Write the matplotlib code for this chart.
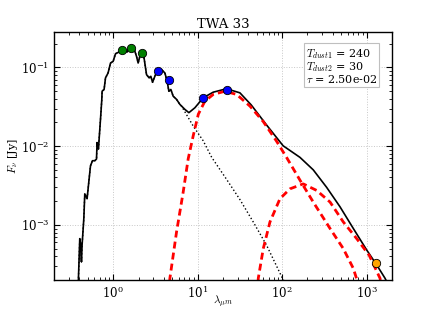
import numpy as np
import matplotlib
matplotlib.use('Agg')
import matplotlib.pyplot as plt

plt.rcParams['font.family'] = 'serif'
plt.rcParams['mathtext.fontset'] = 'cm'

# noisy stellar spectrum (shared by photosphere and total)
star_wl = [0.38, 0.403, 0.414, 0.422, 0.429, 0.450, 0.462, 0.492, 0.520, 0.540,
           0.570, 0.607, 0.636, 0.646, 0.671, 0.683, 0.709, 0.735, 0.741, 0.782,
           0.813, 0.872, 0.932, 1.0, 1.068, 1.146, 1.234, 1.376, 1.465, 1.547,
           1.652, 1.759, 1.894, 1.978, 2.072, 2.170, 2.310, 2.487, 2.670, 2.797,
           2.930, 3.120, 3.321, 3.746, 4.099, 4.364, 4.571, 4.827, 5.139, 5.640,
           6.170]
star_fx = [1.0e-4, 6.7e-4, 5.5e-4, 3.4e-4, 5.5e-4, 1.2e-3, 2.48e-3, 2.15e-3, 3.84e-3, 5.64e-3,
           6.53e-3, 6.53e-3, 6.86e-3, 0.0111, 0.0092, 0.0123, 0.0219, 0.0392, 0.0498, 0.0524,
           0.0735, 0.085, 0.1136, 0.119, 0.149, 0.1546, 0.1624, 0.1638, 0.1564, 0.1757,
           0.1894, 0.1757, 0.1376, 0.1136, 0.1376, 0.152, 0.1376, 0.0809, 0.0735, 0.077,
           0.0647, 0.077, 0.089, 0.0935, 0.085, 0.0666, 0.0498, 0.0524, 0.0431, 0.0392,
           0.0339]

# photosphere continuation (dotted)
phot_wl = [6.46, 8.87, 11.65, 14.7, 22.0, 31.7, 45.6, 65.7, 99.0, 120.0]
phot_fx = [0.0322, 0.018, 0.0117, 0.0072, 0.0038, 0.0021, 0.00109, 5.5e-4, 2.2e-4, 1.5e-4]

# total model continuation (solid)
tot_wl = [7.07, 7.886, 9.29, 11.65, 15.3, 22.0, 31.7, 43.0, 65.7, 103, 163, 234,
          337, 485, 698, 1005, 1321, 1657, 2000]
tot_fx = [0.0293, 0.0266, 0.0307, 0.0411, 0.0484, 0.0535, 0.0475, 0.0335, 0.0185, 0.0101,
          0.0072, 0.0050, 0.0030, 0.0017, 9.0e-4, 4.8e-4, 3.1e-4, 2.1e-4, 1.4e-4]

# warm dust (T=240)
warm_wl = [4.5, 4.7, 5.64, 6.75, 7.74, 8.87, 10.2, 12.2, 15.3, 21.1, 29.0, 41.7,
           59.9, 86.3, 113, 163, 234, 370, 531, 698, 760, 850]
warm_fx = [1.0e-4, 2.1e-4, 8.2e-4, 2.6e-3, 6.9e-3, 0.0135, 0.0254, 0.0372, 0.0453, 0.0498,
           0.0453, 0.0322, 0.0205, 0.0115, 0.0072, 0.0037, 0.00195, 9.0e-4, 5.0e-4, 2.8e-4,
           2.1e-4, 1.2e-4]

# cold dust (T=30)
cold_wl = [50, 52.3, 59.9, 71.9, 94.4, 124, 178, 257, 370, 531, 765, 1077, 1445, 1600]
cold_fx = [1.0e-4, 2.1e-4, 5.0e-4, 1.09e-3, 2.15e-3, 2.87e-3, 3.32e-3, 2.74e-3, 1.95e-3,
           1.09e-3, 6.7e-4, 4.1e-4, 2.1e-4, 1.2e-4]

# photometry
tmass_wl = [1.26, 1.65, 2.17]
tmass_fx = [0.164, 0.176, 0.152]
wise_wl = [3.36, 4.6, 11.6, 22.2]
wise_fx = [0.0908, 0.070, 0.0407, 0.0523]
mm_wl = [1297]
mm_fx = [3.32e-4]

fig = plt.figure(figsize=(4.36, 3.12), dpi=100)
ax = fig.add_axes([0.124, 0.1026, 0.775, 0.7944])

ax.loglog(star_wl + phot_wl, star_fx + phot_fx, ':', color='k', lw=1.0)
ax.loglog(star_wl + tot_wl, star_fx + tot_fx, '-', color='k', lw=1.2)
ax.loglog(warm_wl, warm_fx, '--', color='r', lw=2.0, dashes=(2.5, 1.5))
ax.loglog(cold_wl, cold_fx, '--', color='r', lw=2.0, dashes=(2.5, 1.5))

ax.plot(tmass_wl, tmass_fx, 'o', color='green', mec='k', ms=6, mew=0.6)
ax.plot(wise_wl, wise_fx, 'o', color='blue', mec='k', ms=6, mew=0.6)
ax.plot(mm_wl, mm_fx, 'o', color='orange', mec='k', ms=6, mew=0.6)

ax.set_xlim(0.2, 2000)
ax.set_ylim(2e-4, 0.28)
ax.grid(True, which='major', ls=':', color='0.78', lw=0.7)
ax.tick_params(which='both', direction='in', top=True, right=True, labelsize=8.5)
ax.tick_params(which='major', length=4)
ax.tick_params(which='minor', length=2)
for s in ax.spines.values():
    s.set_linewidth(1.0)

ax.set_title('TWA 33', fontsize=9.5, pad=3)
ax.set_xlabel(r'$\lambda_{\mu m}$', fontsize=8)
ax.set_ylabel(r'$F_\nu$ [Jy]', fontsize=8)
ax.xaxis.set_label_coords(0.5, -0.055)
ax.yaxis.set_label_coords(-0.1, 0.5)

txt = '$T_{dust1}$ = 240\n$T_{dust2}$ = 30\n' + r'$\tau$ = 2.50e-02'
ax.text(0.745, 0.94, txt, transform=ax.transAxes, fontsize=8, va='top', ha='left',
        linespacing=0.9,
        bbox=dict(boxstyle='square,pad=0.2', fc='white', ec='0.75', lw=0.8))

fig.savefig('out.png', dpi=100)
